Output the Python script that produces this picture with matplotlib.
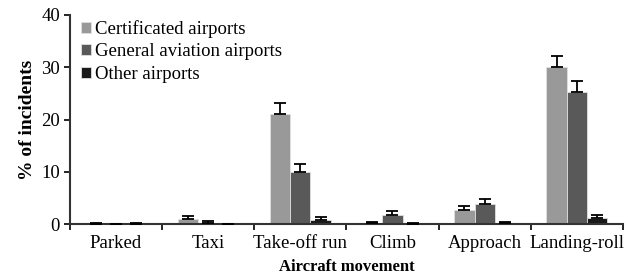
import numpy as np
import matplotlib.pyplot as plt

plt.rcParams['font.family'] = ['Liberation Serif', 'DejaVu Serif']

categories = ['Parked', 'Taxi', 'Take-off run', 'Climb', 'Approach', 'Landing-roll']
series = ['Certificated airports', 'General aviation airports', 'Other airports']
certificated = [0.1, 0.9, 21.1, 0.2, 2.7, 30.0]
certificated_err = [0.1, 0.6, 2.0, 0.2, 0.8, 2.2]
general = [0.05, 0.2, 10.0, 1.8, 3.8, 25.2]
general_err = [0.05, 0.3, 1.5, 0.7, 1.0, 2.2]
other = [0.1, 0.05, 0.8, 0.1, 0.2, 1.1]
other_err = [0.1, 0.05, 0.5, 0.1, 0.2, 0.6]

colors = ['#999999', '#595959', '#1a1a1a']
values = [certificated, general, other]
errors = [certificated_err, general_err, other_err]

fig = plt.figure(figsize=(6.28, 2.77), dpi=100)
ax = fig.add_axes([0.111, 0.191, 0.881, 0.755])

x = np.arange(len(categories))
w = 0.22
for i in range(3):
    pos = x + (i - 1) * w
    ax.bar(pos, values[i], w, color=colors[i], edgecolor='#e0e0e0', linewidth=0.6,
           label=series[i], zorder=2)
    ax.errorbar(pos, values[i], yerr=[np.zeros(len(x)), errors[i]], fmt='none',
                ecolor='black', elinewidth=1.3, capsize=4, capthick=1.3, zorder=3)

ax.set_xlim(-0.5, len(categories) - 0.5)
ax.set_ylim(0, 40)
ax.set_yticks([0, 10, 20, 30, 40])
ax.set_xticks(np.arange(len(categories) + 1) - 0.5)
ax.set_xticklabels([])
ax.set_xticks(x, minor=True)
ax.set_xticklabels(categories, minor=True)
ax.tick_params(axis='x', which='minor', length=0, labelsize=13.5, pad=8)
ax.tick_params(axis='x', which='major', length=4, width=1.2, direction='out')
ax.tick_params(axis='y', labelsize=13.5, length=4, width=1.2, direction='out', pad=3)
ax.spines['top'].set_visible(False)
ax.spines['right'].set_visible(False)
ax.spines['left'].set_linewidth(1.5)
ax.spines['bottom'].set_linewidth(1.5)
ax.spines['left'].set_color('#333333')
ax.spines['bottom'].set_color('#333333')

ax.set_ylabel('% of incidents', fontsize=14, fontweight='bold', labelpad=4)
ax.set_xlabel('Aircraft movement', fontsize=12, fontweight='bold', labelpad=5)

ax.legend(loc='upper left', bbox_to_anchor=(0.0, 1.03), frameon=False, fontsize=13.5,
          handlelength=0.55, handleheight=0.55, handletextpad=0.2, labelspacing=0.3,
          borderaxespad=0.2)

fig.savefig('out.png', dpi=100)
